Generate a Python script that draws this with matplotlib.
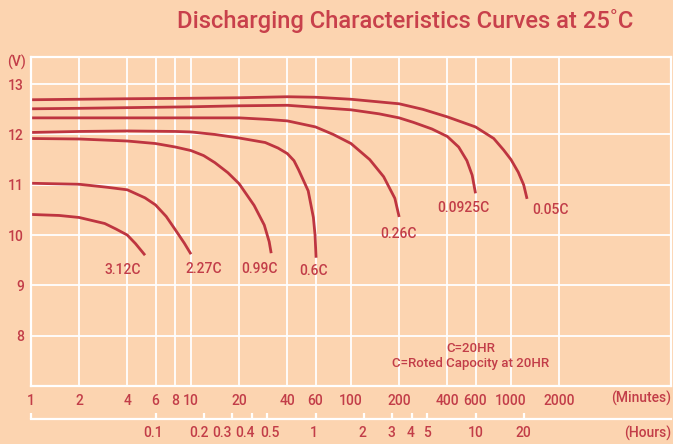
import matplotlib
matplotlib.use('Agg')
import matplotlib.pyplot as plt
from matplotlib.ticker import NullLocator, FixedLocator, FixedFormatter, NullFormatter

# ---------------- data ----------------
minute_ticks = [1, 2, 4, 6, 8, 10, 20, 40, 60, 100, 200, 400, 600, 1000, 2000]
minute_labels = ['1', '2', '4', '6', '8', '10', '20', '40', '60', '100', '200',
                 '400', '600', '1000', '2000']
hour_ticks_min = [1, 6, 12, 18, 24, 30, 60, 120, 180, 240, 300, 600, 1200]
hour_labels = ['', '0.1', '0.2', '0.3', '0.4', '0.5', '1', '2', '3', '4', '5', '10', '20']
volt_ticks = [8, 9, 10, 11, 12, 13]

t_312 = [1, 1.5, 2, 2.89, 3.4, 4, 4.5, 5.16]
v_312 = [10.41, 10.39, 10.35, 10.23, 10.12, 10.0, 9.83, 9.6]

t_227 = [1, 2, 3, 4, 5.16, 6, 7, 8, 9.08, 10]
v_227 = [11.03, 11.01, 10.95, 10.9, 10.74, 10.6, 10.37, 10.1, 9.84, 9.62]

t_099 = [1, 2, 4, 6, 8, 10, 12, 14.1, 17, 20, 24.8, 28.7, 30.8, 31.7]
v_099 = [11.92, 11.91, 11.87, 11.82, 11.75, 11.68, 11.58, 11.44, 11.24, 11.02,
         10.59, 10.2, 9.87, 9.64]

t_060 = [1, 2, 4, 8, 10, 14.1, 20, 29.1, 35, 40, 44, 47, 54, 58.2, 59.6, 60.5]
v_060 = [12.04, 12.06, 12.07, 12.06, 12.05, 12.0, 11.93, 11.84, 11.73, 11.62, 11.48,
         11.30, 10.88, 10.35, 10.0, 9.55]

t_026 = [1, 4, 20, 30, 40, 49, 60, 77.5, 100, 131, 160, 188, 200]
v_026 = [12.33, 12.33, 12.33, 12.3, 12.27, 12.21, 12.15, 12.0, 11.82, 11.5,
         11.16, 10.73, 10.36]

t_0925 = [1, 2, 10, 20, 40, 49, 60, 100, 150, 200, 246, 320, 400, 471, 530, 572, 600]
v_0925 = [12.51, 12.52, 12.55, 12.57, 12.58, 12.56, 12.54, 12.49, 12.41, 12.33,
          12.24, 12.11, 11.96, 11.75, 11.48, 11.19, 10.83]

t_005 = [1, 2, 4, 10, 20, 40, 60, 100, 200, 281, 400, 600, 780, 900, 1000, 1110, 1200, 1260]
v_005 = [12.69, 12.70, 12.71, 12.72, 12.73, 12.75, 12.74, 12.70, 12.61, 12.50,
         12.35, 12.15, 11.92, 11.69, 11.50, 11.25, 11.0, 10.72]

rate_labels = ['3.12C', '2.27C', '0.99C', '0.6C', '0.26C', '0.0925C', '0.05C']
series_t = [t_312, t_227, t_099, t_060, t_026, t_0925, t_005]
series_v = [v_312, v_227, v_099, v_060, v_026, v_0925, v_005]

# ---------------- style ----------------
label_offsets = [(-22, -15), (13, -15), (-12, -16), (-3, -13),
                 (-1, -17), (-12, -15), (23, -11)]
hour_label_dx = [0, -2, -5, -10, -7, 3, -2, -1, 0, -1, 0, 0, 0]

BG = '#FCD4B0'
CURVE = '#BE3540'
TXT = '#C23D48'
FONT = ['Roboto', 'DejaVu Sans']
FS = 10

W, H = 673, 444
fig = plt.figure(figsize=(W / 100, H / 100), dpi=100)
fig.patch.set_facecolor(BG)

L, R, T, B = 31, 671, 57, 386
ax = fig.add_axes([L / W, 1 - B / H, (R - L) / W, (B - T) / H])
ax.set_facecolor(BG)
ax.set_xscale('log')
ax.set_xlim(1, 10000)
ax.set_ylim(7, 13.54)

ax.xaxis.set_major_locator(FixedLocator(minute_ticks))
ax.xaxis.set_major_formatter(FixedFormatter(minute_labels))
ax.xaxis.set_minor_locator(NullLocator())
ax.set_yticks(volt_ticks)
ax.set_yticklabels([str(v) for v in volt_ticks])
ax.grid(True, color='white', linewidth=1.3)
ax.set_axisbelow(True)
for s in ax.spines.values():
    s.set_color('white')
    s.set_linewidth(1.6)
ax.tick_params(axis='both', length=0, labelcolor=TXT, labelsize=FS)
ax.tick_params(axis='x', pad=6)
ax.tick_params(axis='y', pad=5)
for lab in ax.get_xticklabels() + ax.get_yticklabels():
    lab.set_family(FONT)
    lab.set_weight('medium')

for t, v, name, off in zip(series_t, series_v, rate_labels, label_offsets):
    ax.plot(t, v, color=CURVE, linewidth=2.0, solid_capstyle='butt',
            solid_joinstyle='round')
    ax.annotate(name, xy=(t[-1], v[-1]), xytext=off, textcoords='offset pixels',
                ha='center', va='center', color=TXT, fontsize=FS, family=FONT,
                weight='medium')

# notes
fig.text(471 / W, 1 - 348 / H, 'C=20HR', ha='center', va='center',
         color=TXT, fontsize=9.5, family=FONT, weight='medium')
fig.text(471 / W, 1 - 364 / H, 'C=Roted Capocity at 20HR', ha='center', va='center',
         color=TXT, fontsize=9.5, family=FONT, weight='medium')

# hours axis
HL = 419
ax2 = fig.add_axes([L / W, 1 - HL / H, (R - L) / W, 0.0005])
ax2.patch.set_alpha(0)
ax2.set_xscale('log')
ax2.set_xlim(1, 10000)
ax2.set_yticks([])
for k in ['top', 'left', 'right']:
    ax2.spines[k].set_visible(False)
ax2.spines['bottom'].set_color('white')
ax2.spines['bottom'].set_linewidth(1.6)
ax2.xaxis.set_major_locator(FixedLocator(hour_ticks_min))
ax2.xaxis.set_major_formatter(NullFormatter())
ax2.xaxis.set_minor_locator(NullLocator())
ax2.tick_params(axis='x', direction='in', length=4.5, width=1.6, color='white')
for m, lab, dx in zip(hour_ticks_min, hour_labels, hour_label_dx):
    if lab:
        ax2.annotate(lab, xy=(m, 0), xycoords=('data', 'axes fraction'),
                     xytext=(dx, -14), textcoords='offset pixels',
                     ha='center', va='center', color=TXT, fontsize=FS,
                     family=FONT, weight='medium')

fig.text(671 / W, 1 - 398 / H, '(Minutes)', ha='right', va='center', color=TXT,
         fontsize=FS, family=FONT, weight='medium')
fig.text(671 / W, 1 - 433 / H, '(Hours)', ha='right', va='center', color=TXT,
         fontsize=FS, family=FONT, weight='medium')
fig.text(17 / W, 1 - 62 / H, '(V)', ha='center', va='center', color=TXT,
         fontsize=FS, family=FONT, weight='medium')

title = fig.text(405 / W, 1 - 21 / H, 'Discharging Characteristics Curves at 25\u02daC',
                 ha='center', va='center', color='#C8404B', fontsize=20, family=FONT,
                 weight='medium')
fig.canvas.draw()
bb = title.get_window_extent()
title.set_fontsize(20 * 457 / bb.width)

fig.savefig('out.png', dpi=100, facecolor=BG)
